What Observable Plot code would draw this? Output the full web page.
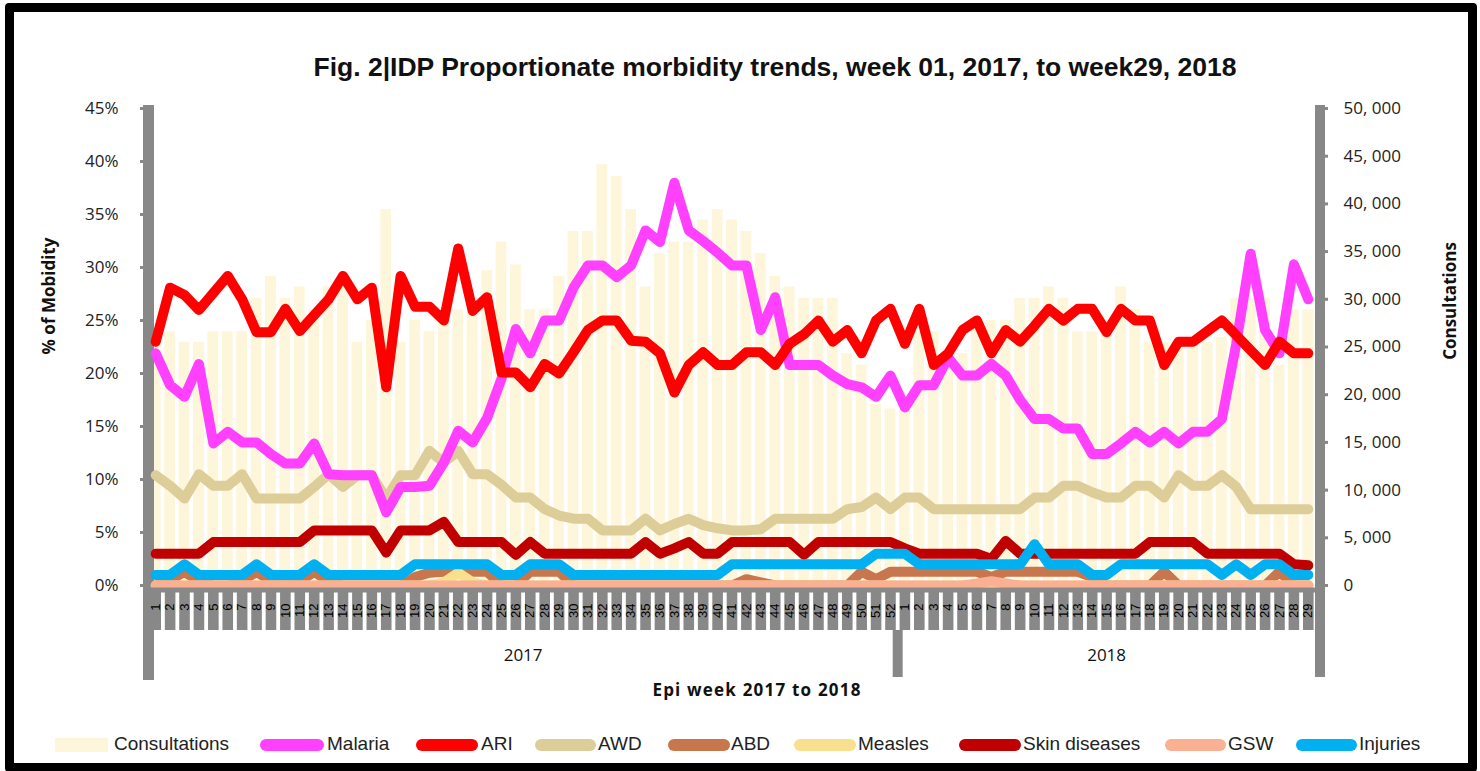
<!DOCTYPE html>
<html>
<head>
<meta charset="utf-8">
<script src="https://cdn.jsdelivr.net/npm/d3@7"></script>
<script src="https://cdn.jsdelivr.net/npm/@observablehq/plot@0.6"></script>
<style>
  html, body { margin: 0; padding: 0; background: #fff; }
  body { width: 1480px; height: 771px; position: relative; overflow: hidden; font-family: "Open Sans", sans-serif; }
  #frame { position: absolute; left: 5px; top: 3px; width: 1454px; height: 751px; border: 9px solid #000; border-radius: 4px; }
  #title { position: absolute; top: 52px; left: 775px; transform: translateX(-50%); white-space: nowrap;
           font-family: "Liberation Sans", Arial, sans-serif; font-weight: bold; font-size: 26.5px; color: #111; }
  #chart { position: absolute; left: 0; top: 90px; }
  .lg { position: absolute; }
  .lgtext { position: absolute; top: 733px; font-family: "Liberation Sans Narrow", "Liberation Sans", Arial, sans-serif; font-size: 19px; color: #222; white-space: nowrap; }
</style>
</head>
<body>
<div id="frame"></div>
<div id="title">Fig. 2|IDP Proportionate morbidity trends, week 01, 2017, to week29, 2018</div>
<div id="chart"></div>
<div id="legend"></div>
<script>
// ---------------- DATA ----------------
const weekLabels = [...d3.range(1, 53), ...d3.range(1, 30)];
const yearLabels = [...Array(52).fill("2017"), ...Array(29).fill("2018")];

const consultations = [
  26600, 26600, 25500, 25500, 26600, 26600, 26600, 30100, 32400, 30100,
  31300, 28900, 31300, 32000, 25500, 27800, 39400, 25500, 27800, 26600,
  28900, 28900, 28900, 33000, 36000, 33600, 28900, 28900, 32400, 37100,
  37100, 44100, 42900, 39400, 31300, 34800, 36000, 36000, 38300, 39400,
  38300, 37100, 34800, 32400, 31300, 30100, 30100, 30100, 24300, 23100,
  19000, 18500,
  18500, 26600, 26600, 24000, 24300, 27800, 27800, 27800, 30100, 30100,
  31300, 30100, 26600, 26600, 27800, 31300, 28900, 25500, 25500, 25500,
  25500, 25500, 26000, 30100, 30100, 30100, 23100, 28900, 28900
];

const malaria = [
  21.9, 18.9, 17.8, 20.9, 13.4, 14.5, 13.5, 13.5, 12.4, 11.5,
  11.5, 13.4, 10.5, 10.4, 10.4, 10.4, 6.9, 9.3, 9.3, 9.4,
  11.6, 14.6, 13.5, 15.8, 19.5, 24.2, 21.9, 25.0, 25.0, 28.1,
  30.2, 30.2, 29.1, 30.2, 33.5, 32.4, 38.0, 33.5, 32.5, 31.4,
  30.2, 30.2, 24.1, 27.2, 20.8, 20.8, 20.8, 19.8, 19.0, 18.7,
  17.8, 19.8,
  16.8, 18.9, 18.9, 21.5, 19.8, 19.8, 20.9, 19.8, 17.5, 15.7,
  15.7, 14.8, 14.8, 12.4, 12.4, 13.4, 14.5, 13.5, 14.5, 13.4,
  14.5, 14.5, 15.7, 22.8, 31.3, 24.1, 21.9, 30.3, 27.0
];

const ari = [
  23.0, 28.1, 27.4, 26.0, 27.6, 29.2, 27.0, 23.9, 23.9, 26.1,
  24.0, 25.5, 27.0, 29.2, 27.0, 28.1, 18.7, 29.2, 26.3, 26.3,
  25.0, 31.8, 25.9, 27.2, 20.1, 20.1, 18.7, 20.9, 20.0, 22.0,
  24.1, 25.0, 25.0, 23.1, 23.0, 21.9, 18.2, 20.8, 22.0, 20.8,
  20.8, 22.0, 22.0, 20.8, 22.8, 23.7, 25.0, 23.0, 24.1, 21.9,
  25.0, 26.1,
  22.8, 26.1, 20.8, 21.9, 24.1, 25.0, 21.9, 24.1, 23.0, 24.5,
  26.1, 25.0, 26.1, 26.1, 23.9, 26.1, 25.0, 25.0, 20.8, 23.0,
  23.0, 24.0, 25.0, 23.6, 22.2, 20.8, 23.0, 21.9, 21.9
];

const awd = [
  10.4, 9.4, 8.2, 10.5, 9.4, 9.4, 10.5, 8.2, 8.2, 8.2,
  8.2, 9.3, 10.5, 9.3, 10.4, 10.4, 8.2, 10.4, 10.4, 12.7,
  11.6, 12.7, 10.5, 10.5, 9.5, 8.3, 8.3, 7.2, 6.6, 6.3,
  6.3, 5.2, 5.2, 5.2, 6.3, 5.2, 5.8, 6.3, 5.7, 5.4,
  5.2, 5.2, 5.3, 6.3, 6.3, 6.3, 6.3, 6.3, 7.2, 7.4,
  8.3, 7.2,
  8.3, 8.3, 7.2, 7.2, 7.2, 7.2, 7.2, 7.2, 7.2, 8.3,
  8.3, 9.4, 9.4, 8.8, 8.3, 8.3, 9.4, 9.4, 8.3, 10.4,
  9.4, 9.4, 10.4, 9.3, 7.2, 7.2, 7.2, 7.2, 7.2
];

const abd = [
  0.0, 0.5, 1.3, 0.4, 0.0, 0.0, 0.4, 1.3, 0.4, 0.0,
  0.4, 1.3, 0.4, 0.0, 0.0, 0.0, 0.0, 0.0, 0.8, 1.2,
  1.3, 1.8, 1.3, 1.3, 0.0, 0.0, 1.3, 1.3, 1.3, 0.0,
  0.0, 0.0, 0.0, 0.0, 0.0, 0.0, 0.0, 0.0, 0.0, 0.0,
  0.0, 0.6, 0.3, 0.0, 0.0, 0.0, 0.0, 0.0, 0.0, 1.3,
  0.6, 1.3,
  1.3, 1.3, 1.3, 1.3, 1.3, 1.3, 0.8, 1.3, 1.3, 1.3,
  1.3, 1.3, 1.3, 0.8, 0.0, 0.0, 0.0, 0.0, 1.3, 0.0,
  0.0, 0.0, 0.0, 0.0, 0.0, 0.0, 1.3, 0.0, 0.0
];

const measles = [
  0, 0, 0, 0, 0, 0, 0, 0, 0, 0,
  0, 0, 0, 0, 0, 0, 0, 0, 0, 0,
  0.3, 1.2, 0.3, 0, 0, 0, 0, 0, 0, 0,
  0, 0, 0, 0, 0, 0, 0, 0, 0, 0,
  0, 0, 0, 0, 0, 0, 0, 0, 0, 0,
  0, 0,
  0, 0, 0, 0, 0, 0, 0, 0, 0, 0,
  0, 0, 0, 0, 0, 0, 0, 0, 0, 0,
  0, 0, 0, 0, 0, 0, 0, 0, 0
];

const skin = [
  3.0, 3.0, 3.0, 3.0, 4.1, 4.1, 4.1, 4.1, 4.1, 4.1,
  4.1, 5.2, 5.2, 5.2, 5.2, 5.2, 3.1, 5.2, 5.2, 5.2,
  6.0, 4.1, 4.1, 4.1, 4.1, 2.9, 4.1, 3.0, 3.0, 3.0,
  3.0, 3.0, 3.0, 3.0, 4.1, 3.0, 3.5, 4.1, 3.0, 3.0,
  4.1, 4.1, 4.1, 4.1, 4.1, 2.9, 4.1, 4.1, 4.1, 4.1,
  4.1, 4.1,
  3.5, 3.0, 3.0, 3.0, 3.0, 3.0, 2.5, 4.2, 3.0, 3.0,
  3.0, 3.0, 3.0, 3.0, 3.0, 3.0, 3.0, 4.1, 4.1, 4.1,
  4.1, 3.0, 3.0, 3.0, 3.0, 3.0, 3.0, 2.0, 1.9
];

const gsw = [
  0, 0, 0, 0, 0, 0, 0, 0, 0, 0,
  0, 0, 0, 0, 0, 0, 0, 0, 0, 0,
  0, 0, 0, 0, 0, 0, 0, 0, 0, 0,
  0, 0, 0, 0, 0, 0, 0, 0, 0, 0,
  0, 0, 0, 0, 0, 0, 0, 0, 0, 0,
  0, 0,
  0, 0, 0, 0, 0, 0.2, 0.4, 0.2, 0, 0,
  0, 0, 0, 0, 0, 0, 0, 0, 0, 0,
  0, 0, 0, 0, 0, 0, 0, 0, 0
];

const injuries = [
  1.0, 1.0, 2.0, 1.0, 1.0, 1.0, 1.0, 2.0, 1.0, 1.0,
  1.0, 2.0, 1.0, 1.0, 1.0, 1.0, 1.0, 1.0, 2.0, 2.0,
  2.0, 2.0, 2.0, 2.0, 1.0, 1.0, 2.0, 2.0, 2.0, 1.0,
  1.0, 1.0, 1.0, 1.0, 1.0, 1.0, 1.0, 1.0, 1.0, 1.0,
  2.0, 2.0, 2.0, 2.0, 2.0, 2.0, 2.0, 2.0, 2.0, 2.0,
  3.0, 3.0,
  3.0, 2.0, 2.0, 2.0, 2.0, 2.0, 2.0, 2.0, 2.0, 3.9,
  2.0, 2.0, 2.0, 1.0, 1.0, 2.0, 2.0, 2.0, 2.0, 2.0,
  2.0, 2.0, 1.0, 2.0, 1.0, 2.0, 2.0, 1.0, 1.0
];

// ---------------- SERIES / STYLE ----------------
const GRAY = "#888888";
const series = [
  { name: "Malaria",       values: malaria,  color: "#FF40FF" },
  { name: "ARI",           values: ari,      color: "#FF0000" },
  { name: "AWD",           values: awd,      color: "#DDCD99" },
  { name: "ABD",           values: abd,      color: "#C8764E" },
  { name: "Measles",       values: measles,  color: "#F8E08E" },
  { name: "Skin diseases", values: skin,     color: "#C00000" },
  { name: "GSW",           values: gsw,      color: "#FAB092" },
  { name: "Injuries",      values: injuries, color: "#00B0F0" }
];
const drawOrder = ["AWD", "Malaria", "ARI", "ABD", "Measles", "Skin diseases", "GSW", "Injuries"];
const BAR_COLOR = "#FDF6DA";

const rows = weekLabels.map((label, i) => ({ w: i + 1, label, year: yearLabels[i], cons: consultations[i] }));
const K = 45 / 50000; // consultations mapped onto the % scale (secondary axis)

const yearGroups = d3.groups(rows, d => d.year).map(([year, ws]) => ({ year, mid: d3.mean(ws, d => d.w), last: d3.max(ws, d => d.w) }));
const boundaries = yearGroups.slice(0, -1).map(g => g.last + 0.5);
const fmtCons = v => v === 0 ? "0" : d3.format(",")(v).replace(",", ", ");

const lineMarks = drawOrder.map(n => {
  const s = series.find(d => d.name === n);
  return Plot.line(s.values.map((v, i) => ({ w: i + 1, v })), {
    x: "w", y: "v", stroke: s.color, strokeWidth: 10, strokeLinecap: "round", strokeLinejoin: "round"
  });
});

const chart = Plot.plot({
  width: 1480, height: 620,
  marginLeft: 148, marginRight: 165, marginTop: 18, marginBottom: 125,
  x: { domain: [0.5, 81.5], axis: null },
  y: { domain: [0, 45], axis: null },
  style: { background: "transparent", fontFamily: "Open Sans, sans-serif", overflow: "visible" },
  marks: [
    // consultation bars
    Plot.rectY(rows, { x1: d => d.w - 0.5, x2: d => d.w + 0.5, y1: 0, y2: d => d.cons * K, fill: BAR_COLOR, insetLeft: 1.8, insetRight: 1.8 }),
    // frame bars (left / right / year divider)
    Plot.ruleX([0.5], { stroke: GRAY, strokeWidth: 11, insetTop: -3, insetBottom: -95 }),
    Plot.ruleX([81.5], { stroke: GRAY, strokeWidth: 10, dx: 4.5, insetTop: -3, insetBottom: -92 }),
    Plot.ruleX(boundaries, { stroke: GRAY, strokeWidth: 10, insetTop: 522, insetBottom: -92 }),
    // gray label blocks
    Plot.ruleX(rows, { x: "w", stroke: GRAY, strokeWidth: 10.6, insetTop: 484, insetBottom: -45 }),
    // left axis
    Plot.axisY(d3.range(0, 46, 5), { anchor: "left", tickSize: 8, tickPadding: 22, stroke: GRAY, strokeWidth: 3,
      tickFormat: d => d + "%", fontSize: 17, fill: "#222", label: null }),
    // right axis (consultations)
    Plot.axisY(d3.range(0, 50001, 5000).map(c => c * K), { anchor: "right", tickSize: 12, tickPadding: 16, stroke: GRAY, strokeWidth: 3,
      tickFormat: v => fmtCons(Math.round(v / K)), fontSize: 17, fill: "#222", label: null }),
    // series lines
    ...lineMarks,
    // x axis line
    Plot.ruleY([0], { stroke: GRAY, strokeWidth: 5, dy: 4.5 }),
    // week labels
    Plot.text(rows, { x: "w", text: d => String(d.label), frameAnchor: "bottom", dy: 18, rotate: -90,
      textAnchor: "end", lineAnchor: "middle", fontSize: 13, fill: "#000", fontFamily: "Liberation Sans, sans-serif" }),
    // year labels
    Plot.text(yearGroups, { x: "mid", text: "year", frameAnchor: "bottom", dy: 75, fontSize: 17, fill: "#111" }),
    // axis titles
    Plot.text(["Epi week 2017 to 2018"], { frameAnchor: "bottom", dx: 25, dy: 110, fontSize: 17, fontWeight: "bold", fill: "#111" }),
    Plot.text(["% of Mobidity"], { frameAnchor: "left", textAnchor: "middle", dx: -99, dy: -51, rotate: -90, fontSize: 17, fontWeight: "bold", fill: "#111" }),
    Plot.text(["Consultations"], { frameAnchor: "right", textAnchor: "middle", dx: 135, dy: -46, rotate: -90, fontSize: 17, fontWeight: "bold", fill: "#111" })
  ]
});
document.getElementById("chart").appendChild(chart);
d3.select(chart).selectAll("text").filter(function () { return this.textContent === "Epi week 2017 to 2018"; }).attr("letter-spacing", "1.2px");

// ---------------- LEGEND ----------------
const legendLayout = [
  { name: "Consultations", sx: 55,   sw: 53, tx: 114 },
  { name: "Malaria",       sx: 260,  sw: 64, tx: 327 },
  { name: "ARI",           sx: 416,  sw: 62, tx: 481 },
  { name: "AWD",           sx: 535,  sw: 61, tx: 598 },
  { name: "ABD",           sx: 668,  sw: 62, tx: 731 },
  { name: "Measles",       sx: 794,  sw: 62, tx: 858 },
  { name: "Skin diseases", sx: 959,  sw: 62, tx: 1023 },
  { name: "GSW",           sx: 1165, sw: 61, tx: 1228 },
  { name: "Injuries",      sx: 1296, sw: 61, tx: 1359 }
];
const legend = document.getElementById("legend");
legendLayout.forEach(item => {
  const sw = document.createElement("div");
  sw.className = "lg";
  if (item.name === "Consultations") {
    Object.assign(sw.style, { left: item.sx + "px", top: "738px", width: item.sw + "px", height: "14px", background: BAR_COLOR });
  } else {
    const s = series.find(d => d.name === item.name);
    Object.assign(sw.style, { left: item.sx + "px", top: "739px", width: item.sw + "px", height: "12px", background: s.color, borderRadius: "6px" });
  }
  legend.appendChild(sw);
  const t = document.createElement("div");
  t.className = "lgtext";
  t.style.left = item.tx + "px";
  t.textContent = item.name;
  legend.appendChild(t);
});
</script>
</body>
</html>
